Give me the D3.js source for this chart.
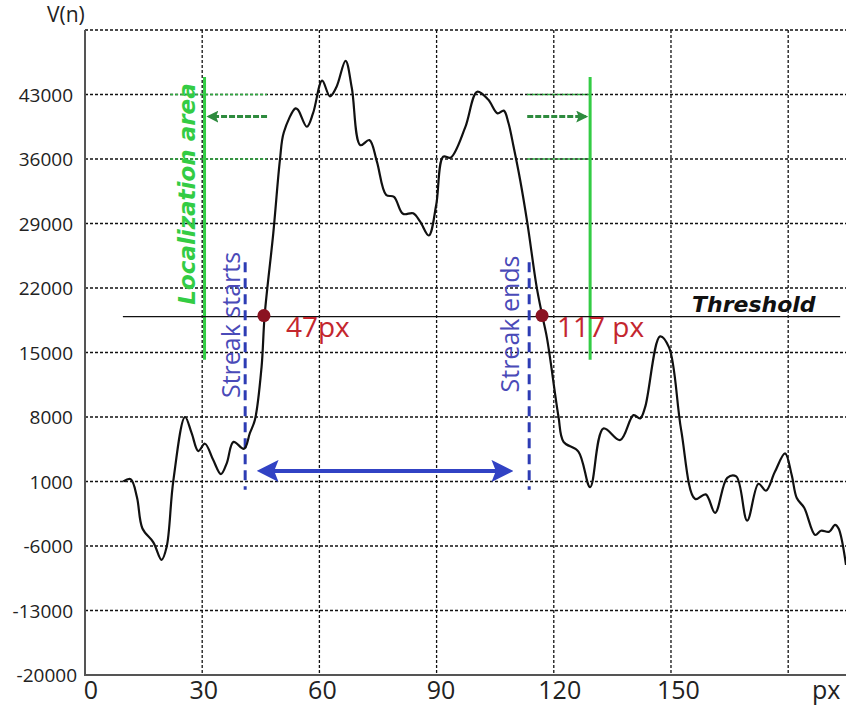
<!DOCTYPE html>
<html lang="en">
  <head>
    <meta charset="UTF-8" />
    <title>Streak localization</title>
    <style>
      body { margin: 0; background: #fff; }
      .grid { stroke: #111; stroke-width: 1.3px; stroke-dasharray: 3,2; fill: none; }
      .axisLine { stroke: #555; stroke-width: 2px; }
      .tickLabel { font-family: "Open Sans", sans-serif; fill: #222; }
      .signal { fill: none; stroke: #111; stroke-width: 2.2px; }
      .thresholdLine { stroke: #111; stroke-width: 1.2px; }
      .locLine { stroke: #33cc44; stroke-width: 3px; }
      .locGrid { stroke: #2fb040; stroke-width: 1.3px; stroke-dasharray: 3,2; }
      .locArrow { stroke: #2e8b3e; stroke-width: 3px; stroke-dasharray: 6,2; }
      .streakLine { stroke: #2d3cb4; stroke-width: 3px; stroke-dasharray: 10,6; }
      .streakArrow { stroke: #3142c4; stroke-width: 4px; }
      .crossDot { fill: #8b1322; }
      .crossLabel { font-family: "Open Sans", sans-serif; font-size: 28px; fill: #c4262e; }
      .streakLabel { font-family: "Open Sans", sans-serif; font-size: 25px; fill: #4a4ab8; }
      .boldNote { font-family: "DejaVu Sans", sans-serif; font-weight: bold; font-style: italic; }
    </style>
  </head>
  <body>
    <script src="https://cdn.jsdelivr.net/npm/d3@7"></script>
    <script>
    // signal
    var pxValues = [9.8, 11.7, 13.3, 14.7, 17.5, 19.6, 20.9, 22.6, 25.6, 27.3, 29.0, 30.7, 32.8, 34.8, 36.3, 38.0, 40.7, 42.2, 43.5, 45.2,
                    46.0, 48.2, 49.9, 50.9, 53.9, 54.6, 56.8, 58.4, 60.7, 62.7, 64.4, 66.7, 68.3, 70.5, 72.8, 74.7, 77.1, 79.1, 81.4, 84.0,
                    85.8, 88.0, 89.9, 91.7, 93.6, 97.3, 100.4, 103.2, 105.6, 107.2, 108.4, 109.7, 111.4, 113.2, 115.6, 117.0, 118.2, 119.0, 121.2, 122.5,
                    126.3, 129.3, 132.7, 137.0, 140.4, 142.1, 143.4, 147.2, 149.5, 152.6, 156.2, 158.9, 161.3, 164.4, 166.7, 169.5, 172.4, 174.3, 176.6, 179.2,
                    180.9, 182.2, 184.1, 186.9, 188.4, 190.5, 192.0, 192.9, 194.8];
    var vnValues = [1000, 1250, -700, -4100, -5600, -7500, -6100, 1050, 8000, 6250, 4300, 5100, 3350, 1800, 3000, 5300, 4550, 6250, 7700, 13450,
                    19100, 27950, 35900, 38900, 41500, 41300, 39500, 41000, 44500, 42800, 43850, 46650, 43700, 37500, 38050, 35750, 32100, 31900, 30050, 30100,
                    29200, 27700, 31000, 36250, 36150, 39400, 43300, 42450, 40950, 41250, 39900, 37350, 33700, 29150, 22150, 19100, 16700, 14550, 8050, 5300,
                    4250, 400, 6750, 5500, 8200, 7850, 9100, 16750, 15550, 6600, -900, -400, -2400, 1400, 1550, -3250, 750, 0, 2050, 4050,
                    1700, -800, -1850, -4800, -4350, -4450, -3700, -4100, -8050];

    var yTicks = [43000, 36000, 29000, 22000, 15000, 8000, 1000, -6000, -13000, -20000];
    var xTicks = [0, 30, 60, 90, 120, 150];
    var xGrid = [30, 60, 90, 120, 150, 180];

    var threshold = 18900;
    var thresholdSpan = [9.7, 193.3];
    var crossings = [45.8, 117.0];
    var crossingLabels = ["47px", "117 px"];

    var locBounds = [30.6, 129.3];
    var locSpan = [14200, 44900];
    var locGridRows = [43000, 36000];
    var locGridLeft = [21.8, 46.6];
    var locGridRight = [113.2, 129.3];
    var locArrowLeft = [46.6, 31.7];
    var locArrowRight = [113.2, 128.2];
    var locArrowLevel = 40600;

    var streakBounds = [41.0, 113.7];
    var streakSpan = [100, 24800];
    var streakArrow = [43.0, 110.6];
    var streakArrowLevel = 2150;

    var data = pxValues.map(function(p, i) {
      return {px: p, vn: vnValues[i]};
    });

    var w = 846, h = 708;
    var svg = d3.select("body").append("svg")
                .attr("width", w)
                .attr("height", h);

    var defs = svg.append("defs");
    function arrowHead(id, color, size) {
      defs.append("marker")
          .attr("id", id)
          .attr("viewBox", "0 0 10 10")
          .attr("refX", 8)
          .attr("refY", 5)
          .attr("markerWidth", size)
          .attr("markerHeight", size)
          .attr("markerUnits", "userSpaceOnUse")
          .attr("orient", "auto-start-reverse")
          .append("path")
          .attr("d", "M0,0 L10,5 L0,10 L2,5 Z")
          .attr("fill", color);
    }
    arrowHead("blueHead", "#3142c4", 22);
    arrowHead("greenHead", "#2e8b3e", 12);

    var xScale = d3.scaleLinear().domain([0, 194.8]).range([85, 846]);
    var yScale = d3.scaleLinear().domain([-20000, 50000]).range([675, 30]);

//grid
    svg.selectAll(".hGrid")
       .data(yTicks.slice(0, -1).concat([50000]))
       .enter().append("line")
       .attr("class", "grid")
       .attr("x1", xScale(0))
       .attr("x2", w)
       .attr("y1", function(d) { return yScale(d); })
       .attr("y2", function(d) { return yScale(d); });
    svg.selectAll(".vGrid")
       .data(xGrid)
       .enter().append("line")
       .attr("class", "grid")
       .attr("x1", function(d) { return xScale(d); })
       .attr("x2", function(d) { return xScale(d); })
       .attr("y1", yScale(50000))
       .attr("y2", yScale(-20000));

//green grid overlays near the localization lines
    locGridRows.forEach(function(r) {
      [locGridLeft, locGridRight].forEach(function(s) {
        svg.append("line")
           .attr("class", "locGrid")
           .attr("x1", xScale(s[0]))
           .attr("x2", xScale(s[1]))
           .attr("y1", yScale(r))
           .attr("y2", yScale(r));
      });
    });

//axes
    svg.append("line")
       .attr("class", "axisLine")
       .attr("x1", xScale(0)).attr("x2", xScale(0))
       .attr("y1", yScale(50000)).attr("y2", yScale(-20000) + 1);
    svg.append("line")
       .attr("class", "axisLine")
       .attr("x1", xScale(0) - 1).attr("x2", w)
       .attr("y1", yScale(-20000)).attr("y2", yScale(-20000));

    svg.selectAll(".yLabel")
       .data(yTicks)
       .enter().append("text")
       .attr("class", "tickLabel")
       .attr("font-size", 19)
       .attr("text-anchor", "end")
       .attr("x", function(d) { return d === -20000 ? 77 : 73; })
       .attr("y", function(d) { return yScale(d) + 7; })
       .text(function(d) { return d; });

    svg.selectAll(".xLabel")
       .data(xTicks)
       .enter().append("text")
       .attr("class", "tickLabel")
       .attr("font-size", 25)
       .attr("text-anchor", "middle")
       .attr("x", function(d) { return xScale(d) + (d === 0 ? 6 : d * 0.05); })
       .attr("y", 699)
       .text(function(d) { return d; });

    svg.append("text")
       .attr("class", "tickLabel")
       .attr("font-size", 25)
       .attr("x", 812)
       .attr("y", 699)
       .text("px");
    svg.append("text")
       .attr("class", "tickLabel")
       .attr("font-size", 21)
       .attr("x", 47)
       .attr("y", 22)
       .text("V(n)");

//localization area
    locBounds.forEach(function(b) {
      svg.append("line")
         .attr("class", "locLine")
         .attr("x1", xScale(b)).attr("x2", xScale(b))
         .attr("y1", yScale(locSpan[1])).attr("y2", yScale(locSpan[0]));
    });
    [locArrowLeft, locArrowRight].forEach(function(a) {
      svg.append("line")
         .attr("class", "locArrow")
         .attr("x1", xScale(a[0])).attr("x2", xScale(a[1]))
         .attr("y1", yScale(locArrowLevel)).attr("y2", yScale(locArrowLevel))
         .attr("marker-end", "url(#greenHead)");
    });
    svg.append("text")
       .attr("class", "boldNote")
       .attr("transform", "translate(" + (xScale(locBounds[0]) - 10) + ",194)rotate(-90)")
       .attr("text-anchor", "middle")
       .attr("font-size", 23)
       .attr("fill", "#33cc44")
       .text("Localization area");

//threshold
    svg.append("line")
       .attr("class", "thresholdLine")
       .attr("x1", xScale(thresholdSpan[0]))
       .attr("x2", xScale(thresholdSpan[1]))
       .attr("y1", yScale(threshold))
       .attr("y2", yScale(threshold));
    svg.append("text")
       .attr("class", "boldNote")
       .attr("x", 692)
       .attr("y", yScale(threshold) - 5)
       .attr("font-size", 22)
       .attr("fill", "#111")
       .text("Threshold");

//streak bounds
    streakBounds.forEach(function(b) {
      svg.append("line")
         .attr("class", "streakLine")
         .attr("x1", xScale(b)).attr("x2", xScale(b))
         .attr("y1", yScale(streakSpan[1])).attr("y2", yScale(streakSpan[0]));
    });
    svg.append("line")
       .attr("class", "streakArrow")
       .attr("x1", xScale(streakArrow[0]) + 8)
       .attr("x2", xScale(streakArrow[1]) - 8)
       .attr("y1", yScale(streakArrowLevel))
       .attr("y2", yScale(streakArrowLevel))
       .attr("marker-start", "url(#blueHead)")
       .attr("marker-end", "url(#blueHead)");
    svg.append("text")
       .attr("class", "streakLabel")
       .attr("text-anchor", "middle")
       .attr("transform", "translate(" + (xScale(streakBounds[0]) - 5) + ",325)rotate(-90)")
       .text("Streak starts");
    svg.append("text")
       .attr("class", "streakLabel")
       .attr("text-anchor", "middle")
       .attr("transform", "translate(" + (xScale(streakBounds[1]) - 10) + ",324)rotate(-90)")
       .text("Streak ends");

//signal
    var line = d3.line()
                 .curve(d3.curveCatmullRom.alpha(0.5))
                 .x(function(d) { return xScale(d.px); })
                 .y(function(d) { return yScale(d.vn); });
    svg.append("path")
       .datum(data)
       .attr("class", "signal")
       .attr("d", line);

//crossing points
    var labelShift = [22, 15];
    svg.selectAll(".crossDot")
       .data(crossings)
       .enter().append("circle")
       .attr("class", "crossDot")
       .attr("cx", function(d) { return xScale(d); })
       .attr("cy", yScale(threshold) - 1)
       .attr("r", 6.5);
    svg.selectAll(".crossLabel")
       .data(crossings)
       .enter().append("text")
       .attr("class", "crossLabel")
       .attr("x", function(d, i) { return xScale(d) + labelShift[i]; })
       .attr("y", yScale(threshold) + 20)
       .text(function(d, i) { return crossingLabels[i]; });
    </script>
  </body>
</html>
